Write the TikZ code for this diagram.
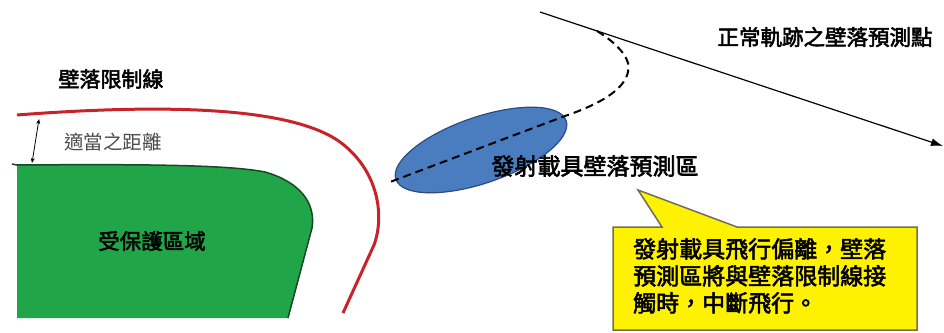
\documentclass[tikz,border=0pt]{standalone}
\usepackage{fontspec}
\newfontfamily\cjk[AutoFakeBold=2.5]{Noto Sans CJK TC}
\usetikzlibrary{shapes.geometric,arrows.meta}
\definecolor{redline}{RGB}{200,35,45}
\definecolor{greenfill}{RGB}{32,166,72}
\definecolor{greenedge}{RGB}{25,70,35}
\definecolor{bluefill}{RGB}{74,124,192}
\definecolor{blueedge}{RGB}{45,75,130}
\definecolor{calloutedge}{RGB}{110,110,90}
\tikzset{
  lbl/.style={font=\cjk\bfseries\fontsize{21}{24}\selectfont, inner sep=0pt, text=black},
  lightlbl/.style={font=\cjk\fontsize{19.5}{22}\selectfont, inner sep=0pt, text=black!70},
}
\begin{document}
\begin{tikzpicture}[x=1pt,y=-1pt]
\useasboundingbox (0,0) rectangle (944,332);
% protected area
\fill[greenfill] (17,165) -- (17,318) -- (288,318) -- (312,228)
  .. controls (316,203) and (300,182) .. (265,172)
  .. controls (230,165) and (150,164) .. (17,165) -- cycle;
\draw[greenedge, line width=1.5pt] (12,164) -- (17,165)
  .. controls (150,164) and (230,165) .. (265,172)
  .. controls (300,182) and (316,203) .. (312,228) -- (288,318);
% limit line
\draw[redline, line width=3pt] (17,115)
  .. controls (160,104) and (290,106) .. (340,142)
  .. controls (378,170) and (385,215) .. (374,245) -- (343,313);
% distance arrow
\coordinate (dtop) at (39,119);
\coordinate (dbot) at (32,163);
\draw[{Stealth[length=5pt,width=4pt]}-{Stealth[length=5pt,width=4pt]}, line width=0.8pt] (dtop) -- (dbot);
% labels left
\node[lbl] (limit) at (111,79) {壁落限制線};
\node[lightlbl] (dist) at (113,142) {適當之距離};
\node[lbl, font=\cjk\bfseries\fontsize{21.5}{24}\selectfont] (prot) at (152,241) {受保護區域};
% impact zone ellipse
\node[ellipse, draw=blueedge, fill=bluefill, line width=1.2pt, minimum width=180pt, minimum height=66pt, rotate=19, inner sep=0pt] (zone) at (481,150) {};
% trajectory
\coordinate (start) at (540,12);
\coordinate (dev) at (597,31);
\coordinate (tip) at (943,146);
\coordinate (dend) at (390,182);
\draw[line width=1.2pt, -{Latex[length=12pt,width=8pt]}] (start) -- (tip);
\draw[line width=2pt, dash pattern=on 8pt off 5pt] (dev)
  .. controls (615,42) and (632,58) .. (628,72)
  .. controls (624,90) and (600,104) .. (565,116) -- (dend);
% labels right
\node[lbl, font=\cjk\bfseries\fontsize{21.5}{24}\selectfont] (normal) at (825,37) {正常軌跡之壁落預測點};
\node[lbl, font=\cjk\bfseries\fontsize{23}{24}\selectfont] (zonelbl) at (595,166) {發射載具壁落預測區};
% callout
\coordinate (ctip) at (638,190);
\draw[fill=yellow, draw=calloutedge, line width=1.5pt, line join=miter]
  (613,227) -- (662,227) -- (ctip) -- (737,227) -- (917,227) -- (917,330) -- (613,330) -- cycle;
\node[lbl, anchor=north west, align=left, font=\cjk\bfseries\fontsize{23}{27}\selectfont] (note) at (633,238)
  {發射載具飛行偏離，壁落\\預測區將與壁落限制線接\\觸時，中斷飛行。};
\end{tikzpicture}
\end{document}
